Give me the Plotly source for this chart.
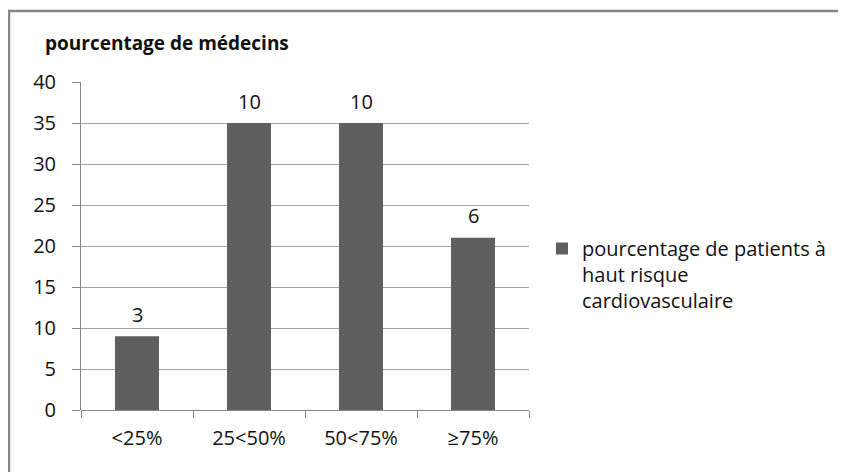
import plotly.graph_objects as go

categories = ["<25%", "25<50%", "50<75%", "≥75%"]
pct_patients = [9, 35, 35, 21]
nb_medecins = [3, 10, 10, 6]
series_name = "pourcentage de patients à<br>haut risque<br>cardiovasculaire"
title_text = "pourcentage de médecins"
y_ticks = [0, 5, 10, 15, 20, 25, 30, 35, 40]

FONT = "Open Sans"
TXT = "#111111"

# the page body adds an 8px offset; the figure is sized/positioned to compensate
OFF = 8
W, H = 846 - OFF, 472 - OFF
PX0, PX1, PY0, PY1 = 81 - OFF, 529 - OFF, 82 - OFF, 410 - OFF  # plot area in figure px
L, R, T, B = PX0, W - PX1, PY0, H - PY1
pw, ph = PX1 - PX0, PY1 - PY0


def px_x(x):  # page px -> paper x
    return (x - OFF - PX0) / pw


def px_y(y):  # page px -> paper y
    return (PY1 - (y - OFF)) / ph


fig = go.Figure()
fig.add_trace(go.Bar(
    x=categories, y=pct_patients, name=series_name,
    marker=dict(color="#5f5f5f", line=dict(width=0)),
    showlegend=True,
))

for c, v, n in zip(categories, pct_patients, nb_medecins):
    fig.add_annotation(x=c, y=v, text=str(n), showarrow=False,
                       yanchor="middle", yshift=22,
                       font=dict(family=FONT, size=20, color=TXT))

fig.update_layout(
    width=W, height=H,
    margin=dict(l=L, r=R, t=T, b=B, pad=0),
    paper_bgcolor="white", plot_bgcolor="white",
    font=dict(family=FONT, size=20, color=TXT),
    bargap=0.607,
    title=dict(text="<b>" + title_text + "</b>", x=(45 - OFF) / W, xanchor="left",
               y=1 - (43 - OFF) / H, yanchor="middle",
               font=dict(family=FONT, size=19, color=TXT)),
    showlegend=True,
    legend=dict(x=px_x(542), xanchor="left", y=px_y(229), yanchor="top",
                valign="top", itemwidth=30, bgcolor="rgba(0,0,0,0)",
                font=dict(family=FONT, size=20, color=TXT)),
    xaxis=dict(type="category", showgrid=False, showline=False, zeroline=False,
               ticks="outside", tickson="boundaries", ticklen=7, tickcolor="#868686",
               tickwidth=1, ticklabelstandoff=14,
               tickfont=dict(family=FONT, size=20, color=TXT)),
    yaxis=dict(range=[0, 40], tickvals=y_ticks, showgrid=True, gridcolor="#a0a0a0",
               gridwidth=1, showline=True, linecolor="#868686", linewidth=1,
               zeroline=True, zerolinecolor="#868686", zerolinewidth=1,
               ticks="outside", ticklen=8, tickcolor="#868686", ticklabelstandoff=12,
               tickfont=dict(family=FONT, size=20, color=TXT)),
)

# outer chart frame (as in the original spreadsheet chart)
fig.add_shape(type="rect", xref="paper", yref="paper",
              x0=px_x(9), x1=px_x(900),
              y0=px_y(520), y1=px_y(11),
              line=dict(color="#868686", width=2.5), fillcolor="rgba(0,0,0,0)",
              layer="below")

fig.write_html("out.html")
